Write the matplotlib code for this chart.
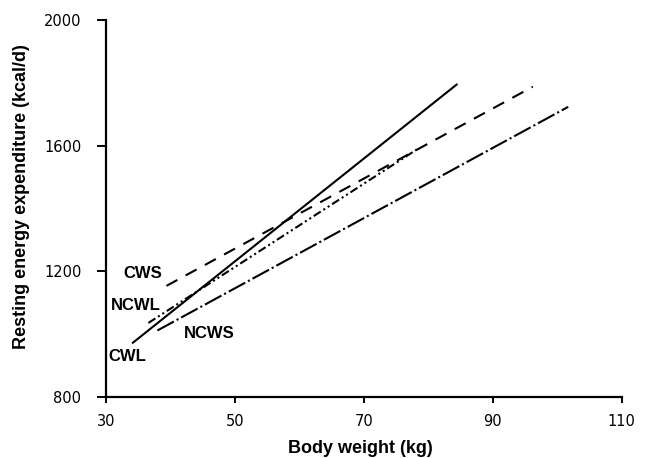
import matplotlib
matplotlib.use('Agg')
import matplotlib.pyplot as plt

# regression lines: (start, end) in body weight / REE
groups = ['CWL', 'CWS', 'NCWL', 'NCWS']
weight_ends = {'CWL': [34.2, 84.4], 'CWS': [39.4, 96.2],
               'NCWL': [36.6, 78.2], 'NCWS': [38.0, 101.7]}
ree_ends = {'CWL': [973, 1795], 'CWS': [1154, 1788],
            'NCWL': [1036, 1588], 'NCWS': [1012, 1724]}
label_pos = {'CWL': (33.4, 930), 'CWS': (35.8, 1193),
             'NCWL': (34.6, 1090), 'NCWS': (46.0, 1004)}

x_ticks = [30, 50, 70, 90, 110]
y_ticks = [800, 1200, 1600, 2000]

styles = {
    'CWL': dict(linestyle='-'),
    'CWS': dict(linestyle=(0, (6, 4.5))),
    'NCWL': dict(linestyle=(0, (4, 1.5, 1, 1.5, 1, 1.5))),
    'NCWS': dict(linestyle=(0, (9, 1.5, 1, 1.5))),
}

plt.rcParams['font.family'] = ['Liberation Sans', 'DejaVu Sans']

fig = plt.figure(figsize=(6.45, 4.58), dpi=100)
ax = fig.add_axes([0.164, 0.133, 0.800, 0.823])

for g in groups:
    ax.plot(weight_ends[g], ree_ends[g], color='black', lw=1.5, **styles[g])
    ax.text(*label_pos[g], g, ha='center', va='center', fontsize=12,
            fontweight='bold')

ax.set_xlim(30, 110)
ax.set_ylim(800, 2000)
ax.set_xticks(x_ticks)
ax.set_yticks(y_ticks)
ax.spines['top'].set_visible(False)
ax.spines['right'].set_visible(False)
ax.spines['left'].set_linewidth(1.6)
ax.spines['bottom'].set_linewidth(1.6)
ax.tick_params(axis='both', direction='out', width=1.4)
ax.tick_params(axis='y', length=6.5, pad=11)
ax.tick_params(axis='x', length=4.5, pad=8)
for lab in ax.get_xticklabels() + ax.get_yticklabels():
    lab.set_fontfamily('DejaVu Sans')
    lab.set_fontsize(10.5)

ax.set_xlabel('Body weight (kg)', fontsize=13, fontweight='bold')
ax.set_ylabel('Resting energy expenditure (kcal/d)', fontsize=13,
              fontweight='bold')
ax.xaxis.set_label_coords(0.494, -0.114)
ax.yaxis.set_label_coords(-0.147, 0.533)

fig.savefig('out.png', dpi=100)
